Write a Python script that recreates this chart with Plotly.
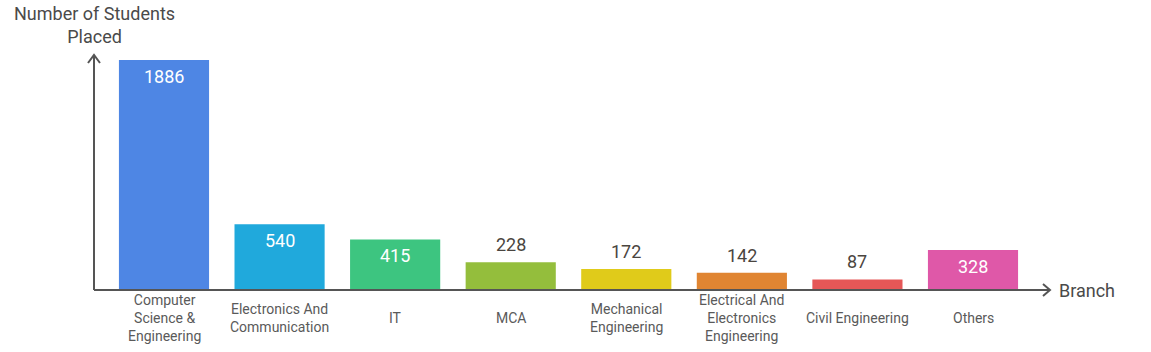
import plotly.graph_objects as go

categories = ["Computer<br>Science &<br>Engineering", "Electronics And<br>Communication", "IT", "MCA",
              "Mechanical<br>Engineering", "Electrical And<br>Electronics<br>Engineering",
              "Civil Engineering", "Others"]
values = [1886, 540, 415, 228, 172, 142, 87, 328]
colors = ["#4E86E4", "#20A9DC", "#3DC580", "#94BE3C", "#E0CB1A", "#E08532", "#E55757", "#DF58A8"]
inside = [True, True, True, False, False, False, False, True]

W, H = 1151, 352
L, R, T, B = 94, 1050, 55, 290
pw, ph = R - L, B - T

x = list(range(len(values)))
fig = go.Figure(go.Bar(x=x, y=values, marker=dict(color=colors, line=dict(width=0)),
                       width=0.78, hoverinfo="skip"))

ann = []
for i, v in enumerate(values):
    if inside[i]:
        ann.append(dict(x=i, y=v, xref="x", yref="y", text=str(v), showarrow=False,
                        yanchor="top", yshift=-4, font=dict(size=18, color="white", family="Roboto")))
    else:
        ann.append(dict(x=i, y=v, xref="x", yref="y", text=str(v), showarrow=False,
                        yanchor="bottom", yshift=5, font=dict(size=18, color="#4a4540", family="Roboto")))
    ann.append(dict(x=i, y=(B - 318) / ph, xref="x", yref="paper", text=categories[i], showarrow=False,
                    yanchor="middle", align="center",
                    font=dict(size=14, color="#5a5a5a", family="Roboto")))

ann.append(dict(x=0, y=1 + (T - 1) / ph, xref="paper", yref="paper", xanchor="center", yanchor="top",
                text="Number of Students<br>Placed", showarrow=False, align="center",
                font=dict(size=18, color="#4a4a4a", family="Roboto")))
ann.append(dict(x=1 + 7 / pw, y=0, xref="paper", yref="paper", xanchor="left", yanchor="middle",
                text="Branch", showarrow=False, font=dict(size=18, color="#4a4a4a", family="Roboto")))

lc = dict(color="#555555", width=2)
ax, ay = 6 / pw, 8 / ph
bx, by = 7 / pw, 6 / ph
shapes = [
    dict(type="line", xref="paper", yref="paper", x0=0, x1=0, y0=0, y1=1, line=lc),
    dict(type="line", xref="paper", yref="paper", x0=0, x1=1, y0=0, y1=0, line=lc),
    dict(type="path", xref="paper", yref="paper", line=lc,
         path=f"M {-ax} {1-ay} L 0 1 L {ax} {1-ay}"),
    dict(type="path", xref="paper", yref="paper", line=lc,
         path=f"M {1-bx} {by} L 1 0 L {1-bx} {-by}"),
]

cw = (973 - 164) / 7
xr = [(L - 164) / cw, (R - 164) / cw]
ymax = 1886 / ((B - 60) / ph)

fig.update_layout(
    width=W, height=H, margin=dict(l=L, r=W - R, t=T, b=H - B),
    plot_bgcolor="white", paper_bgcolor="white", showlegend=False,
    xaxis=dict(range=xr, showticklabels=False, showgrid=False, zeroline=False, showline=False, ticks=""),
    yaxis=dict(range=[0, ymax], showticklabels=False, showgrid=False, zeroline=False, showline=False, ticks=""),
    annotations=ann, shapes=shapes, font=dict(family="Roboto"),
)
fig.write_html("out.html")
